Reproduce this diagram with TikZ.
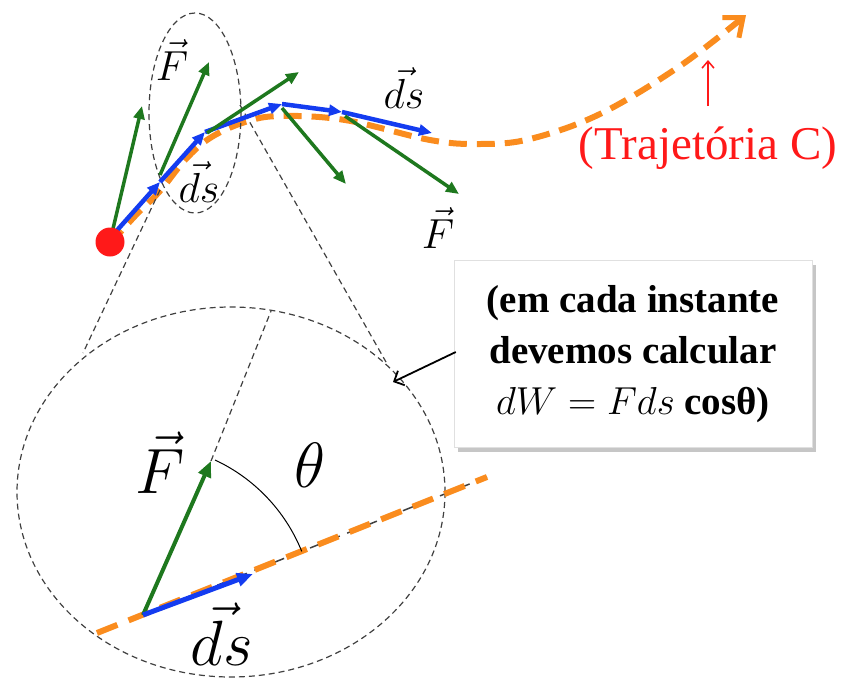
\RequirePackage{fix-cm}
\documentclass[tikz,border=0pt]{standalone}
\usepackage{fontspec}
\setmainfont{Liberation Serif}
\usepackage{amsmath}
\usetikzlibrary{arrows.meta,shadows}
\definecolor{traj}{RGB}{250,140,30}
\definecolor{fgreen}{RGB}{30,120,30}
\definecolor{dsblue}{RGB}{20,60,240}
\definecolor{tred}{RGB}{255,25,25}
\begin{document}
\begin{tikzpicture}[x=1pt,y=-1pt,
  trajline/.style={traj,line width=6pt,dash pattern=on 18pt off 10pt},
  fvec/.style={fgreen,line width=3.5pt,-{Triangle[length=13pt,width=11pt]}},
  dsvec/.style={dsblue,line width=4.5pt,-{Triangle[length=13pt,width=11pt]}},
  guide/.style={black!75,line width=1.2pt,dash pattern=on 6pt off 4pt},
  lbl/.style={inner sep=0pt,font=\fontsize{42}{48}\selectfont},
  biglbl/.style={inner sep=0pt,font=\fontsize{64}{70}\selectfont}]
\useasboundingbox (0,0) rectangle (844,681);
% ---- top trajectory
\draw[trajline,-{Straight Barb[length=16pt,width=26pt,line width=5pt]}] plot[smooth,tension=0.6] coordinates
 {(110,244) (135,216) (160,191) (185,160) (210,138) (245,122) (280,116) (345,120) (430,140) (480,144) (530,139) (600,114) (680,66) (746,15)};
% small ellipse and zoom guides
\draw[guide] (195,113) ellipse[x radius=46, y radius=100];
\coordinate (l1) at (160,190);
\coordinate (l2) at (83,353);
\coordinate (r1) at (240,105);
\coordinate (r2) at (386,362);
\draw[guide] (l1) -- (l2);
\draw[guide] (r1) -- (r2);
% blue ds segments
\coordinate (b0) at (112,236);
\coordinate (b1) at (160,182);
\coordinate (b2) at (205,132);
\coordinate (b3) at (282,104);
\coordinate (b4) at (342,112);
\coordinate (b5) at (432,133);
\draw[dsvec] (b0) -- (b1);
\draw[dsvec] (b1) -- (b2);
\draw[dsvec] (b2) -- (b3);
\draw[dsvec] (b3) -- (b4);
\draw[dsvec] (b4) -- (b5);
% green F vectors
\coordinate (g1) at (142,106);
\coordinate (g2) at (209,62);
\coordinate (g3) at (299,72);
\coordinate (g4) at (346,184);
\coordinate (g5) at (459,194);
\draw[fvec] (112,233) -- (g1);
\draw[fvec] (160,175) -- (g2);
\draw[fvec] (207,133) -- (g3);
\draw[fvec] (282,108) -- (g4);
\draw[fvec] (345,116) -- (g5);
% labels top
\node[lbl] (F1) at (172,60) {$\vec{F}$};
\node[lbl] (ds1) at (199,182) {$\vec{ds}$};
\node[lbl] (ds2) at (404,88) {$\vec{ds}$};
\node[lbl] (F2) at (438,228) {$\vec{F}$};
% red point
\node[circle,fill=tred,minimum size=29pt,inner sep=0pt] (p) at (110,242) {};
% trajectory label
\node[tred,inner sep=0pt,font=\fontsize{47}{52}\selectfont] (tc) at (708,148) {(Trajetória C)};
\coordinate (tca) at (708,60);
\draw[tred,line width=1.5pt,-{Straight Barb[length=7pt,width=12pt]}] (708,106) -- (tca);
% ---- big zoom ellipse
\draw[guide] (231,492) ellipse[x radius=214, y radius=185];
\coordinate (o) at (143,615);
\coordinate (ft) at (211,461);
\coordinate (dt) at (253,574);
\coordinate (top) at (271,311);
\draw[guide] (ft) -- (top);
\coordinate (e1) at (97,633);
\coordinate (e2) at (487,477);
\draw[black!75,line width=1.5pt,dash pattern=on 12pt off 8pt] (o) -- (e2);
\draw[traj,line width=6pt,dash pattern=on 22pt off 12pt] (e1) -- (e2);
\draw[black,line width=1pt] (215,460) arc[start angle=-65,end angle=-22,radius=172];
\draw[fgreen,line width=4pt,-{Triangle[length=16pt,width=13pt]}] (o) -- (ft);
\draw[dsblue,line width=5pt,-{Triangle[length=16pt,width=13pt]}] (o) -- (dt);
\node[biglbl] (Fb) at (160,463) {$\vec{F}$};
\node[biglbl] (th) at (310,465) {$\theta$};
\node[biglbl] (dsb) at (222,634) {$\vec{ds}$};
% ---- callout
\node[draw=black!12,fill=white,drop shadow={shadow xshift=4pt,shadow yshift=-4pt,opacity=0.45},
  minimum width=358pt,minimum height=187pt,align=center,inner sep=0pt,
  font=\fontsize{39}{51}\selectfont\bfseries] (box) at (633,354)
  {(em cada instante\\devemos calcular\\$dW=Fds$ cosθ)};
\coordinate (ap) at (393,382);
\draw[black,line width=1.8pt,-{Straight Barb[length=8pt,width=16pt]}] (box.west) ++(2,-2) -- (ap);
\end{tikzpicture}
\end{document}
